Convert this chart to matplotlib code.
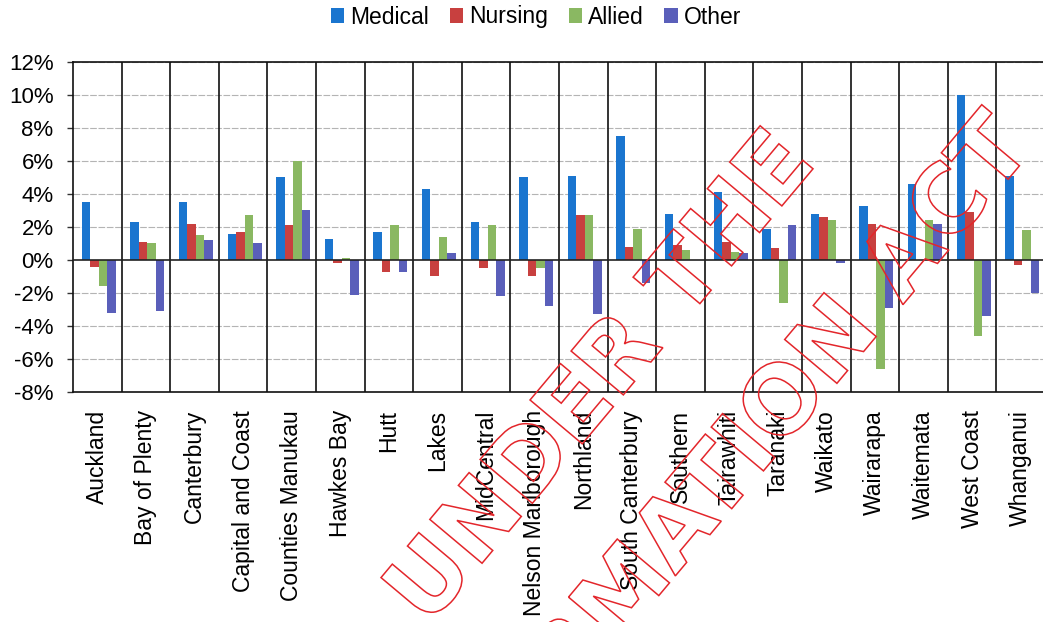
import matplotlib
matplotlib.use("Agg")
import matplotlib.pyplot as plt
import numpy as np
from matplotlib.patches import Patch, PathPatch
from matplotlib.textpath import TextPath
from matplotlib.font_manager import FontProperties
from matplotlib.transforms import Affine2D
from matplotlib.ticker import FuncFormatter

categories = ["Auckland", "Bay of Plenty", "Canterbury", "Capital and Coast",
              "Counties Manukau", "Hawkes Bay", "Hutt", "Lakes", "MidCentral",
              "Nelson Marlborough", "Northland", "South Canterbury", "Southern",
              "Tairawhiti", "Taranaki", "Waikato", "Wairarapa", "Waitemata",
              "West Coast", "Whanganui"]
series_names = ["Medical", "Nursing", "Allied", "Other"]
medical = [3.5, 2.3, 3.5, 1.6, 5.0, 1.3, 1.7, 4.3, 2.3, 5.0,
           5.1, 7.5, 2.8, 4.1, 1.9, 2.8, 3.3, 4.6, 10.0, 5.1]
nursing = [-0.4, 1.1, 2.2, 1.7, 2.1, -0.2, -0.7, -1.0, -0.5, -1.0,
           2.7, 0.8, 0.9, 1.1, 0.7, 2.6, 2.2, 0.0, 2.9, -0.3]
allied = [-1.6, 1.0, 1.5, 2.7, 6.0, 0.1, 2.1, 1.4, 2.1, -0.5,
          2.7, 1.9, 0.6, 0.5, -2.6, 2.4, -6.6, 2.4, -4.6, 1.8]
other = [-3.2, -3.1, 1.2, 1.0, 3.0, -2.1, -0.7, 0.4, -2.2, -2.8,
         -3.3, -1.4, 0.0, 0.4, 2.1, -0.2, -2.9, 2.2, -3.4, -2.0]
yticks = [-8, -6, -4, -2, 0, 2, 4, 6, 8, 10, 12]
watermark_lines = ["RELEASED UNDER THE", "OFFICIAL INFORMATION ACT"]

colors = ["#1a75cf", "#c8403f", "#8ab862", "#5a5fba"]

plt.rcParams["font.family"] = ["Liberation Sans", "DejaVu Sans"]

W, H = 1043, 622
fig = plt.figure(figsize=(W / 100, H / 100), dpi=100)
ax = fig.add_axes([73 / W, (H - 392) / H, 972 / W, 330 / H])

n = len(categories)
x = np.arange(n)
bw = 0.175
data = [medical, nursing, allied, other]
for k, (vals, c) in enumerate(zip(data, colors)):
    ax.bar(x + (k - 1.5) * bw + 0.03, vals, width=bw, color=c, zorder=3,
           linewidth=0)

ax.set_xlim(-0.5, n - 0.5)
ax.set_ylim(-8, 12)
ax.set_yticks(yticks)
ax.yaxis.set_major_formatter(FuncFormatter(lambda v, p: f"{v:.0f}%"))
ax.tick_params(axis="y", labelsize=16, length=4, width=1, pad=10, color="#333333")
ax.set_xticks(x)
ax.set_xticklabels(categories, rotation=90, fontsize=16.5, va="top", ha="center")
ax.tick_params(axis="x", length=0, pad=13)

for v in yticks:
    if v != 0:
        ax.axhline(v, color="#b4b4b4", lw=0.8, ls=(0, (6, 1.5)), zorder=1)
ax.axhline(0, color="#222222", lw=1.2, zorder=4)
for i in range(n - 1):
    ax.axvline(i + 0.5, color="#111111", lw=1.2, zorder=2)

for side in ["left", "top", "bottom"]:
    ax.spines[side].set_color("#111111")
    ax.spines[side].set_linewidth(1.2)
ax.spines["right"].set_visible(False)

handles = [Patch(facecolor=c, edgecolor="none", label=s) for c, s in zip(colors, series_names)]
fig.legend(handles=handles, loc="center", bbox_to_anchor=(536 / W, 1 - 17 / H),
           ncol=4, frameon=False, fontsize=16.5, handlelength=0.6, handleheight=0.6,
           handletextpad=0.25, columnspacing=0.9)

# watermark (hollow red outlined text), anchored by one letter per line
fp = FontProperties(family="DejaVu Sans", weight="bold")
angle = 50


def letter_center(s, idx):
    right = TextPath((0, 0), s[:idx + 1], size=1, prop=fp).get_extents().x1
    wid = TextPath((0, 0), s[idx], size=1, prop=fp).get_extents()
    return right - (wid.x1 - wid.x0) / 2


cap = TextPath((0, 0), "H", size=1, prop=fp).get_extents().y1
# (line, anchor letter idx, anchor px, end letter idx, measured distance px)
specs = [(watermark_lines[0], 9, (426, 577), 17, 534),
         (watermark_lines[1], 14, (619, 590), 23, 577)]
ems = []
for line, ia, _, ib, dist in specs:
    ems.append(dist / (letter_center(line, ib) - letter_center(line, ia)))
em = float(np.mean(ems))
for line, ia, (px, py), _, _ in specs:
    tp = TextPath((0, 0), line, size=em, prop=fp)
    cx = letter_center(line, ia) * em
    tr = (Affine2D().translate(-cx, -cap * em / 2).rotate_deg(angle)
          .translate(px, H - py))
    patch = PathPatch(tr.transform_path(tp), facecolor="none", edgecolor="#e3262b",
                      lw=1.1)
    patch.set_transform(Affine2D())
    patch.set_zorder(10)
    fig.add_artist(patch)

fig.savefig("out.png", dpi=100)
